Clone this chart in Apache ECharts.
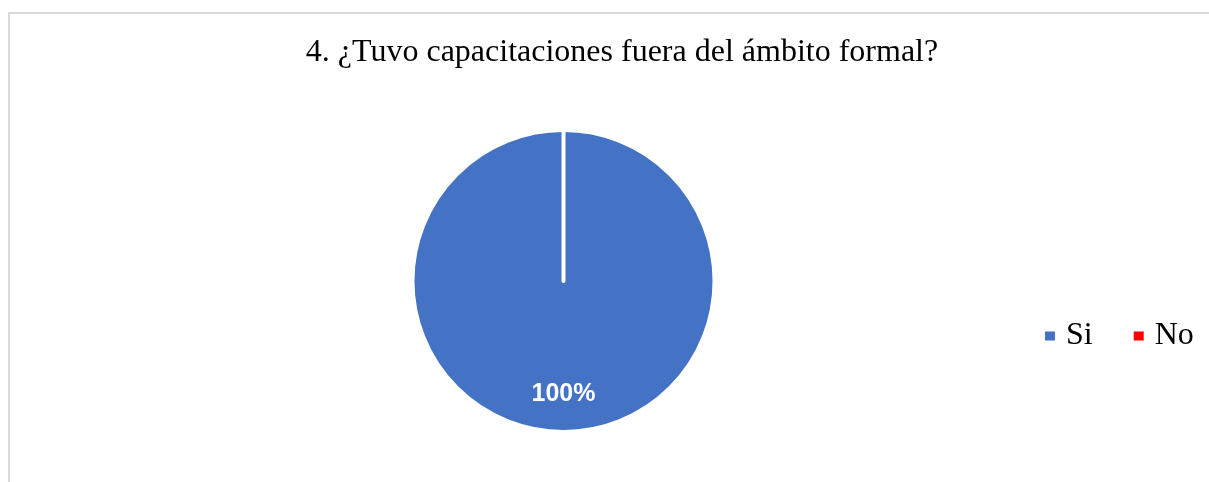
<!DOCTYPE html>
<html>
<head>
<meta charset="utf-8">
<script src="https://cdn.jsdelivr.net/npm/echarts@6/dist/echarts.min.js"></script>
<style>
  html, body { margin: 0; padding: 0; background: #fff; }
  #chart { width: 1209px; height: 482px; }
</style>
</head>
<body>
<div id="chart"></div>
<script>
// Survey question 4: training outside formal education
const titleText = '4. ¿Tuvo capacitaciones fuera del ámbito formal?';
const categories = ['Si', 'No'];
const values = [100, 0];
const colors = ['#4472c4', '#ff0000'];

const chart = echarts.init(document.getElementById('chart'), null, { renderer: 'canvas' });

const total = values.reduce((a, b) => a + b, 0);

chart.setOption({
  animation: false,
  backgroundColor: '#fff',
  graphic: [
    // chart frame (top and left edges)
    { type: 'line', shape: { x1: 9, y1: 13, x2: 1209, y2: 13 }, style: { stroke: '#d9d9d9', lineWidth: 2 }, silent: true },
    { type: 'line', shape: { x1: 9, y1: 12, x2: 9, y2: 482 }, style: { stroke: '#d9d9d9', lineWidth: 2 }, silent: true }
  ],
  title: {
    text: titleText,
    left: 617,
    top: 32,
    textAlign: 'center',
    textStyle: {
      fontFamily: 'Liberation Serif',
      fontWeight: 'normal',
      fontSize: 32,
      color: '#000'
    }
  },
  legend: {
    data: categories,
    orient: 'horizontal',
    left: 1038,
    top: 315,
    itemWidth: 12,
    itemHeight: 11,
    itemGap: 39,
    icon: 'rect',
    textStyle: {
      fontFamily: 'Liberation Serif',
      fontSize: 32,
      color: '#000',
      padding: [0, 0, 0, 5]
    }
  },
  series: [{
    type: 'pie',
    center: [563.5, 281],
    radius: [0, 151],
    startAngle: 90,
    clockwise: true,
    stillShowZeroSum: true,
    minAngle: 0,
    itemStyle: { borderColor: '#fff', borderWidth: 4 },
    label: {
      show: true,
      position: 'inside',
      offset: [0, 35],
      formatter: p => p.value > 0 ? Math.round(p.value / total * 100) + '%' : '',
      fontFamily: 'Liberation Sans',
      fontWeight: 'bold',
      fontSize: 25,
      color: '#fff'
    },
    labelLine: { show: false },
    emphasis: { disabled: true },
    data: categories.map((name, i) => ({
      name,
      value: values[i],
      itemStyle: { color: colors[i] }
    }))
  }]
});
</script>
</body>
</html>
